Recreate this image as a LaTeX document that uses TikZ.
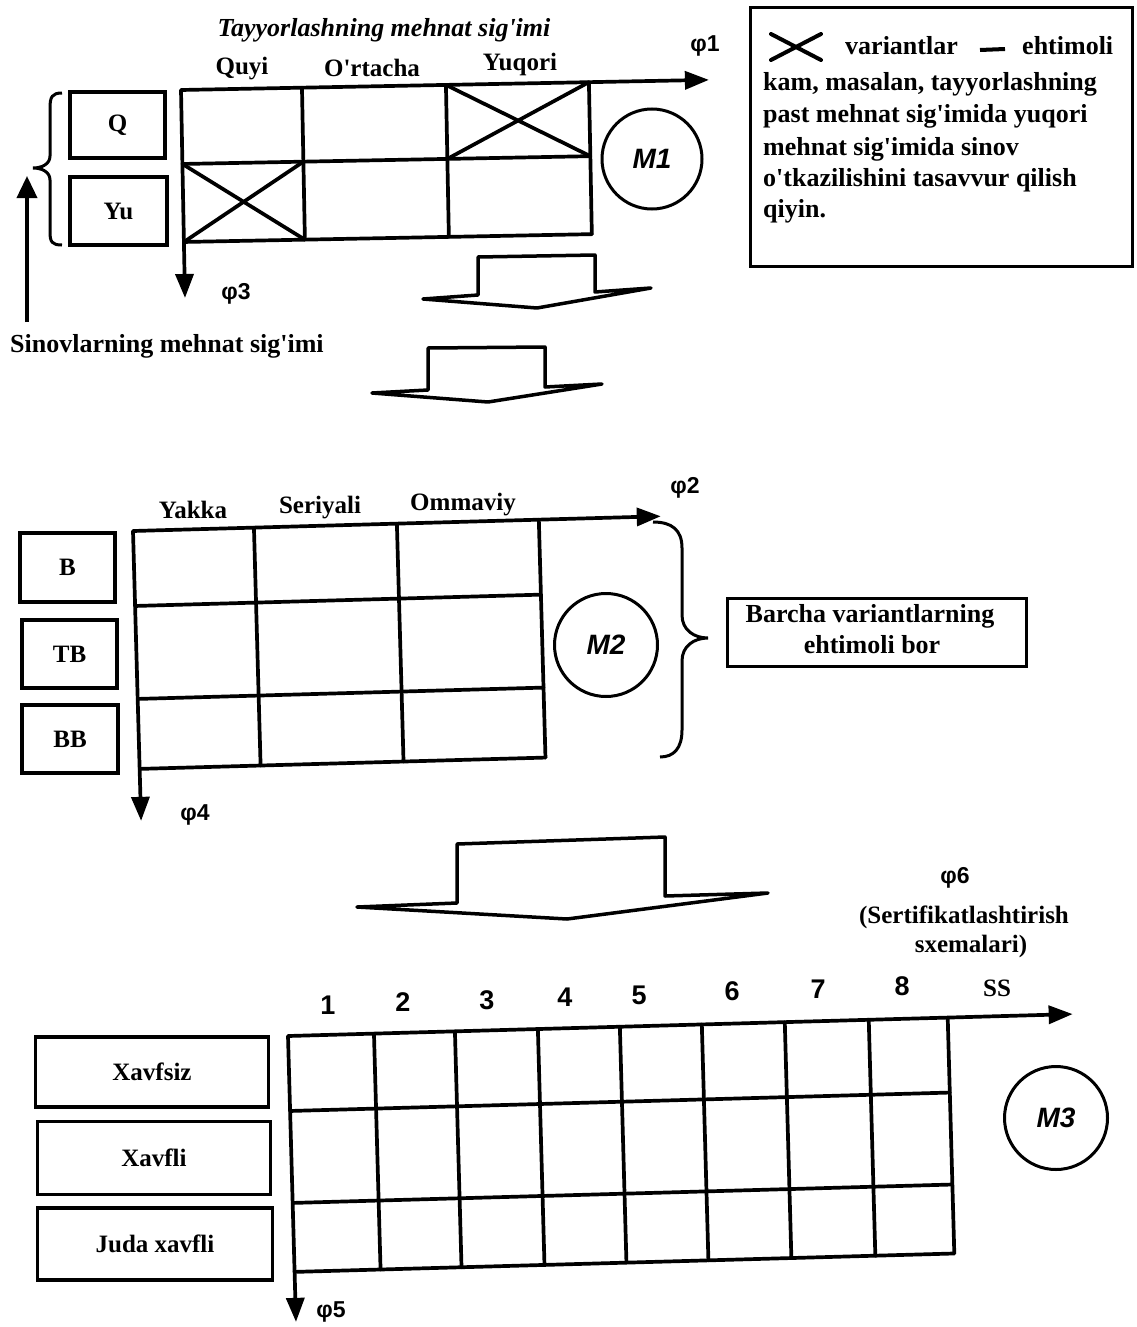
\documentclass[tikz,border=0pt]{standalone}
\usepackage{fontspec}
\setmainfont{Liberation Serif}
\setsansfont{Liberation Sans}
\usetikzlibrary{arrows.meta}
\newcommand{\ap}{\textquotesingle}
\begin{document}
\begin{tikzpicture}[x=1pt,y=-1pt,
  gridline/.style={line width=3.7pt, line cap=round},
  axis/.style={line width=3.7pt, -{Triangle[length=24pt,width=18pt]}},
  lblbox/.style={draw, line width=3.5pt, rectangle, inner sep=0pt, font=\bfseries\fontsize{25}{28}\selectfont},
  hdr/.style={font=\bfseries\fontsize{25}{28}\selectfont, anchor=base, inner sep=0pt},
  phi/.style={font=\sffamily\bfseries\fontsize{23}{24}\selectfont, anchor=base, inner sep=0pt},
  num/.style={font=\sffamily\bfseries\fontsize{27}{28}\selectfont, anchor=base, inner sep=0pt},
  mcirc/.style={draw, circle, line width=3pt, inner sep=0pt, font=\sffamily\bfseries\itshape\fontsize{28}{30}\selectfont},
  blockarrow/.style={line width=3.5pt, line join=round},
  bracestyle/.style={line width=3pt},
  legend/.style={font=\bfseries\fontsize{26}{30}\selectfont, anchor=base west, inner sep=0pt},
]
\useasboundingbox[fill=white] (0,0) rectangle (1136,1327);

% ---------------- Top section ----------------
\node[hdr, font=\bfseries\itshape\fontsize{26}{28}\selectfont] (title) at (384,37) {Tayyorlashning mehnat sig\ap imi};
\node[hdr] (quyi) at (242,75) {Quyi};
\node[hdr] (ortacha) at (372,77) {O\ap rtacha};
\node[hdr] (yuqori) at (520,71) {Yuqori};

\begin{scope}[shift={(181,90)}, rotate=1.1]
  \coordinate (g1o) at (0,0);
  \coordinate (g1x) at (528,0);
  \coordinate (g1b) at (0,152);
  \coordinate (g1y) at (0,208);
  \foreach \cx in {121,265,408} \draw[gridline] (\cx,0) -- (\cx,152);
  \draw[gridline] (0,0) -- (0,152);
  \draw[gridline] (0,74) -- (408,74);
  \draw[gridline] (0,152) -- (408,152);
  \draw[gridline] (265,0) -- (408,74) (265,74) -- (408,0);
  \draw[gridline] (0,74) -- (121,152) (0,152) -- (121,74);
\end{scope}
\draw[axis] (g1o) -- (g1x);
\draw[axis] (g1b) -- (g1y);
\node[phi] (phi1) at (705,52) {φ1};
\node[phi] (phi3) at (236,299) {φ3};

\node[lblbox, minimum width=95pt, minimum height=66pt] (Q) at (117.5,125) {Q};
\node[lblbox, minimum width=97pt, minimum height=68pt] (Yu) at (118.5,211) {Yu};

\draw[bracestyle] (62,93) .. controls (52,93) and (50,97) .. (50,108) -- (50,156)
  .. controls (50,164) and (42,168) .. (33,168)
  .. controls (42,168) and (50,172) .. (50,180) -- (50,232)
  .. controls (50,242) and (52,245) .. (62,245);
\coordinate (upstart) at (27,322);
\coordinate (upend) at (27,176);
\draw[axis, -{Triangle[length=22pt,width=20pt]}] (upstart) -- (upend);
\node[hdr, anchor=base west, font=\bfseries\fontsize{26}{28}\selectfont] (sinov) at (10,352) {Sinovlarning mehnat sig\ap imi};

\node[mcirc, minimum size=100pt] (M1) at (652,159) {M1};

% legend box
\draw[line width=3pt] (750,8) rectangle (1132,266);
\draw[line width=4pt, line cap=round] (771,60) -- (821,34) (771,34) -- (821,60);
\draw[line width=4pt] (980,50) -- (1005,49);
\node[legend] (lg1) at (845,55) {variantlar};
\node[legend] (lg2) at (1022,55) {ehtimoli};
\node[legend] (lg3) at (763,91) {kam, masalan, tayyorlashning};
\node[legend] (lg4) at (763,123) {past mehnat sig\ap imida yuqori};
\node[legend] (lg5) at (763,155) {mehnat sig\ap imida sinov};
\node[legend] (lg6) at (763,186) {o\ap tkazilishini tasavvur qilish};
\node[legend] (lg7) at (763,217) {qiyin.};

% block arrows
\draw[blockarrow] (423,299) -- (478,295) -- (478,257) -- (595,255) -- (595,292) -- (651,288) -- (537,308) -- cycle;
\draw[blockarrow] (372,393) -- (428,390) -- (428,348) -- (545,347) -- (545,387) -- (602,384) -- (488,402) -- cycle;

% ---------------- Middle section ----------------
\node[hdr] (yakka) at (193,518) {Yakka};
\node[hdr] (seriyali) at (320,513) {Seriyali};
\node[hdr] (ommaviy) at (463,510) {Ommaviy};

\begin{scope}[shift={(133,531)}, rotate=1.6]
  \coordinate (g2o) at (0,0);
  \coordinate (g2x) at (528,0);
  \coordinate (g2b) at (0,238);
  \coordinate (g2y) at (0,290);
  \foreach \cx in {0,121,264,406} \draw[gridline] (\cx,0) -- (\cx,238);
  \foreach \ry in {75,168,238} \draw[gridline] (0,\ry) -- (406,\ry);
\end{scope}
\draw[axis] (g2o) -- (g2x);
\draw[axis] (g2b) -- (g2y);
\node[phi] (phi2) at (685,493) {φ2};
\node[phi] (phi4) at (195,820) {φ4};

\node[lblbox, minimum width=95pt, minimum height=69pt] (B) at (67.5,567.5) {B};
\node[lblbox, minimum width=95pt, minimum height=68pt] (TB) at (69.5,654) {TB};
\node[lblbox, minimum width=96pt, minimum height=68pt] (BB) at (70,739) {BB};

\node[mcirc, minimum size=103pt] (M2) at (606,645) {M2};

\draw[bracestyle] (653,522) .. controls (672,522) and (682,530) .. (682,548) -- (682,615)
  .. controls (682,630) and (694,638) .. (708,638)
  .. controls (694,638) and (682,646) .. (682,661) -- (682,730)
  .. controls (682,748) and (674,757) .. (660,757);

\node[draw, line width=3pt, minimum width=299pt, minimum height=68pt, inner sep=0pt] (barcha) at (877,632) {};
\node[hdr, font=\bfseries\fontsize{26}{28}\selectfont] (barcha1) at (870,622) {Barcha variantlarning};
\node[hdr, font=\bfseries\fontsize{26}{28}\selectfont] (barcha2) at (872,653) {ehtimoli bor};

\draw[blockarrow] (357,907) -- (457,903) -- (457,844) -- (665,837) -- (665,896) -- (768,893) -- (567,919) -- cycle;

% ---------------- Bottom section ----------------
\node[phi] (phi6) at (955,883) {φ6};
\node[hdr] (sert1) at (964,923) {(Sertifikatlashtirish};
\node[hdr] (sert2) at (971,952) {sxemalari)};

\node[num] (n1) at (328,1014) {1};
\node[num] (n2) at (403,1011) {2};
\node[num] (n3) at (487,1009) {3};
\node[num] (n4) at (565,1006) {4};
\node[num] (n5) at (639,1004) {5};
\node[num] (n6) at (732,1000) {6};
\node[num] (n7) at (818,998) {7};
\node[num] (n8) at (902,995) {8};
\node[hdr] (ss) at (997,996) {SS};

\begin{scope}[shift={(288,1036)}, rotate=1.6]
  \coordinate (g3o) at (0,0);
  \coordinate (g3x) at (785,0);
  \coordinate (g3b) at (0,236);
  \coordinate (g3y) at (0,286);
  \foreach \cx in {0,86,167,250,332,414,497,581,660} \draw[gridline] (\cx,0) -- (\cx,236);
  \foreach \ry in {75,167,236} \draw[gridline] (0,\ry) -- (660,\ry);
\end{scope}
\draw[axis] (g3o) -- (g3x);
\draw[axis] (g3b) -- (g3y);
\node[phi] (phi5) at (331,1317) {φ5};

\node[lblbox, minimum width=233pt, minimum height=70pt] (xavfsiz) at (152,1072) {Xavfsiz};
\node[lblbox, minimum width=233pt, minimum height=73pt] (xavfli) at (154,1158) {Xavfli};
\node[lblbox, minimum width=235pt, minimum height=72pt] (juda) at (155,1244) {Juda xavfli};

\node[mcirc, minimum size=103pt] (M3) at (1056,1118) {M3};
\end{tikzpicture}
\end{document}
